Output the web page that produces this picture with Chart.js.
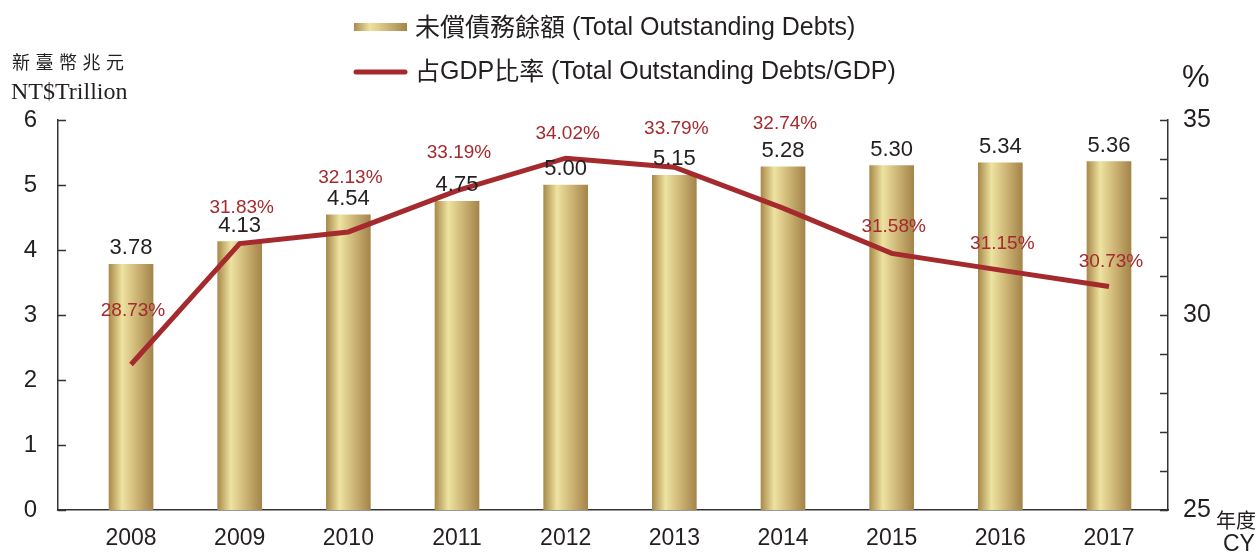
<!DOCTYPE html>
<html>
<head>
<meta charset="utf-8">
<script src="https://cdn.jsdelivr.net/npm/chart.js@4"></script>
<style>
  html, body { margin: 0; padding: 0; background: #fff; }
  canvas { display: block; }
</style>
</head>
<body>
<canvas id="debtChart" width="1260" height="555"></canvas>
<script>
const years = ["2008", "2009", "2010", "2011", "2012", "2013", "2014", "2015", "2016", "2017"];
const debts = [3.78, 4.13, 4.54, 4.75, 5.0, 5.15, 5.28, 5.3, 5.34, 5.36];
const ratio = [28.73, 31.83, 32.13, 33.19, 34.02, 33.79, 32.74, 31.58, 31.15, 30.73];
const leftTicks = [0, 1, 2, 3, 4, 5, 6];
const rightTicks = [25, 30, 35];

const debtLabel = "未償債務餘額";
const debtLabelEn = "(Total Outstanding Debts)";
const ratioLabel = "占GDP比率";
const ratioLabelEn = "(Total Outstanding Debts/GDP)";

const TEXT = "#231f20";
const RED = "#a52a2e";
const SANS = "'Liberation Sans', Arial, sans-serif";
const CJK = "'Noto Sans CJK TC', 'Noto Sans CJK SC', sans-serif";
const SERIF = "'Liberation Serif', 'Times New Roman', serif";

// how far above each line point its % label sits (px)
const pctLift = [54, 36, 54, 38, 24, 38, 84, 27, 26, 25];

function goldGradient(ctx, x0, x1) {
  const g = ctx.createLinearGradient(x0, 0, x1, 0);
  g.addColorStop(0, "#a98a4a");
  g.addColorStop(0.3, "#eee3a1");
  g.addColorStop(0.6, "#d0b979");
  g.addColorStop(1, "#a4844a");
  return g;
}

const extrasPlugin = {
  id: "extras",
  afterDatasetsDraw(chart) {
    const { ctx, scales } = chart;
    ctx.save();

    // bar values
    ctx.fillStyle = TEXT;
    ctx.font = "22px " + SANS;
    ctx.textAlign = "center";
    ctx.textBaseline = "bottom";
    debts.forEach((v, i) => {
      const x = scales.x.getPixelForValue(i);
      const y = scales.y.getPixelForValue(v);
      ctx.fillText(v.toFixed(2), x, y - 5);
    });

    // ratio labels
    ctx.fillStyle = RED;
    ctx.font = "19px " + SANS;
    ctx.textBaseline = "middle";
    ratio.forEach((v, i) => {
      const x = scales.x.getPixelForValue(i);
      const y = scales.y2.getPixelForValue(v);
      ctx.fillText(v.toFixed(2) + "%", x + 2, y - pctLift[i]);
    });
    ctx.restore();
  },
  afterDraw(chart) {
    const { ctx, scales, chartArea } = chart;
    ctx.save();

    // inward tick marks
    ctx.strokeStyle = "#333";
    ctx.lineWidth = 1.5;
    ctx.beginPath();
    leftTicks.forEach((v) => {
      const y = Math.round(scales.y.getPixelForValue(v)) + 0.5;
      ctx.moveTo(chartArea.left, y);
      ctx.lineTo(chartArea.left + 8, y);
    });
    for (let v = 25; v <= 35; v++) {
      const y = Math.round(scales.y2.getPixelForValue(v)) + 0.5;
      ctx.moveTo(chartArea.right, y);
      ctx.lineTo(chartArea.right - 8, y);
    }
    ctx.stroke();

    // legend
    ctx.fillStyle = goldGradient(ctx, 354, 407);
    ctx.fillRect(354, 23, 53, 8);
    ctx.strokeStyle = RED;
    ctx.lineWidth = 5;
    ctx.lineCap = "round";
    ctx.beginPath();
    ctx.moveTo(356, 72);
    ctx.lineTo(405, 72);
    ctx.stroke();

    ctx.fillStyle = TEXT;
    ctx.textBaseline = "middle";
    ctx.textAlign = "left";
    ctx.font = "25px " + CJK;
    ctx.fillText(debtLabel, 415, 26);
    let w = ctx.measureText(debtLabel).width;
    ctx.font = "25px " + SANS;
    ctx.fillText(" " + debtLabelEn, 415 + w, 28);

    ctx.font = "25px " + CJK;
    ctx.fillText("占", 415, 70);
    w = ctx.measureText("占").width;
    ctx.font = "25px " + SANS;
    ctx.fillText("GDP", 415 + w, 72);
    w += ctx.measureText("GDP").width;
    ctx.font = "25px " + CJK;
    ctx.fillText("比率", 415 + w, 70);
    w += ctx.measureText("比率").width;
    ctx.font = "25px " + SANS;
    ctx.fillText(" " + ratioLabelEn, 415 + w, 72);

    // left axis title
    ctx.font = "18px " + CJK;
    ctx.textAlign = "center";
    Array.from("新臺幣兆元").forEach((ch, i) => {
      ctx.fillText(ch, 21 + i * 23.5, 62);
    });
    ctx.font = "24px " + SERIF;
    ctx.textAlign = "left";
    ctx.fillText("NT$Trillion", 11, 93);

    // right axis unit
    ctx.font = "31px " + SANS;
    ctx.fillText("%", 1182, 78);

    // year unit
    ctx.font = "20px " + CJK;
    ctx.fillText("年度", 1216, 520);
    ctx.font = "23px " + SANS;
    ctx.fillText("CY", 1223, 545);

    ctx.restore();
  }
};

new Chart(document.getElementById("debtChart"), {
  data: {
    datasets: [
      {
        type: "line",
        label: ratioLabel,
        data: ratio.map((v, i) => ({ x: i, y: v })),
        yAxisID: "y2",
        borderColor: RED,
        borderWidth: 5,
        pointRadius: 0,
        tension: 0,
        order: 0,
      },
      {
        type: "bar",
        label: debtLabel,
        data: debts.map((v, i) => ({ x: i, y: v })),
        yAxisID: "y",
        barThickness: 44,
        backgroundColor: (c) => {
          const chart = c.chart;
          if (!chart.chartArea || c.type !== "data") return "#c9b06c";
          const cx = chart.scales.x.getPixelForValue(c.dataIndex);
          return goldGradient(chart.ctx, cx - 22, cx + 22);
        },
        order: 1,
      },
    ],
  },
  options: {
    responsive: false,
    animation: false,
    layout: { padding: { top: 120, left: 0, right: 0, bottom: 0 } },
    plugins: {
      legend: { display: false },
      tooltip: { enabled: false },
    },
    scales: {
      x: {
        type: "linear",
        offset: false,
        min: -0.672,
        max: 9.543,
        afterBuildTicks: (s) => {
          s.ticks = years.map((_, i) => ({ value: i }));
        },
        afterFit: (s) => { s.height = 45; },
        ticks: {
          callback: (v) => years[v],
          autoSkip: false,
          maxRotation: 0,
          color: TEXT,
          font: { family: SANS, size: 23 },
          padding: 15,
        },
        grid: { display: false, drawTicks: false, offset: false },
        border: { display: true, color: "#333", width: 1.5 },
      },
      y: {
        position: "left",
        min: 0,
        max: 6,
        afterBuildTicks: (s) => {
          s.ticks = leftTicks.map((v) => ({ value: v }));
        },
        afterFit: (s) => { s.width = 58; },
        ticks: {
          color: TEXT,
          font: { family: SANS, size: 24 },
          padding: 21,
        },
        grid: { display: false, drawTicks: false },
        border: { display: true, color: "#333", width: 1.5 },
      },
      y2: {
        position: "right",
        min: 25,
        max: 35,
        afterBuildTicks: (s) => {
          s.ticks = rightTicks.map((v) => ({ value: v }));
        },
        afterFit: (s) => { s.width = 92; },
        ticks: {
          color: TEXT,
          font: { family: SANS, size: 25 },
          padding: 15,
        },
        grid: { display: false, drawTicks: false },
        border: { display: true, color: "#333", width: 1.5 },
      },
    },
  },
  plugins: [extrasPlugin],
});
</script>
</body>
</html>
